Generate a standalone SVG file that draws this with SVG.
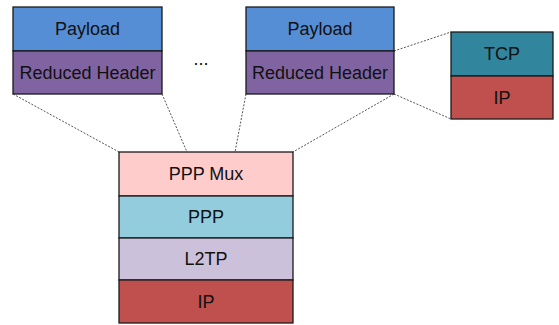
<svg xmlns="http://www.w3.org/2000/svg" width="559" height="325" viewBox="0 0 559 325">
<style>
rect{stroke:#1a1a1a;stroke-width:1.3}
text{font-family:"Liberation Sans",Arial,sans-serif;font-size:18px;fill:#111;text-anchor:middle;dominant-baseline:central}
.c line{stroke:#555;stroke-width:1;stroke-dasharray:2,1.5}
.pl{fill:#558ed5}.rh{fill:#8064a2}.tcp{fill:#31859c}.ip{fill:#c0504d}.mux{fill:#ffcccc}.ppp{fill:#93cddd}.l2{fill:#ccc1da}
</style>
<rect width="559" height="325" fill="#fff" style="stroke:none"/>
<g class="c" id="connectors">
<line x1="13" y1="94" x2="119" y2="152"/>
<line x1="162" y1="94" x2="187" y2="152"/>
<line x1="246" y1="94" x2="235" y2="152"/>
<line x1="394" y1="94" x2="293" y2="152"/>
<line x1="394" y1="51" x2="451" y2="32"/>
<line x1="394" y1="94" x2="451" y2="119"/>
</g>
<g id="left-stack">
<rect class="pl" x="13" y="7" width="149" height="44"/>
<text x="87.5" y="29">Payload</text>
<rect class="rh" x="13" y="51" width="149" height="43"/>
<text x="87.5" y="72.5">Reduced Header</text>
</g>
<g id="ellipsis"><text x="201" y="59">...</text></g>
<g id="right-stack">
<rect class="pl" x="246" y="7" width="148" height="44"/>
<text x="320" y="29">Payload</text>
<rect class="rh" x="246" y="51" width="148" height="43"/>
<text x="320" y="72.5">Reduced Header</text>
</g>
<g id="tcpip">
<rect class="tcp" x="451" y="32" width="102" height="44"/>
<text x="502" y="54">TCP</text>
<rect class="ip" x="451" y="76" width="102" height="43"/>
<text x="502" y="97.5">IP</text>
</g>
<g id="bottom-stack">
<rect class="mux" x="119" y="152" width="174" height="44"/>
<text x="206" y="174">PPP Mux</text>
<rect class="ppp" x="119" y="196" width="174" height="42"/>
<text x="206" y="217">PPP</text>
<rect class="l2" x="119" y="238" width="174" height="42"/>
<text x="206" y="259">L2TP</text>
<rect class="ip" x="119" y="280" width="174" height="43"/>
<text x="206" y="301.5">IP</text>
</g>
</svg>
